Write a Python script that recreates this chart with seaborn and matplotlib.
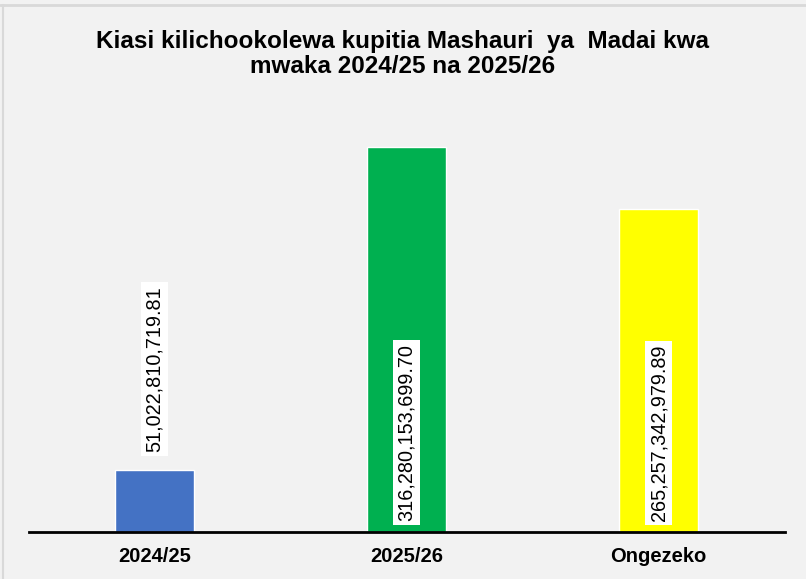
import matplotlib
matplotlib.use("Agg")
import matplotlib.pyplot as plt
import seaborn as sns
import pandas as pd

# Data
categories = ["2024/25", "2025/26", "Ongezeko"]
values = [51022810719.81, 316280153699.70, 265257342979.89]
bar_colors = ["#4472C4", "#00B050", "#FFFF00"]
title = "Kiasi kilichookolewa kupitia Mashauri  ya  Madai kwa\nmwaka 2024/25 na 2025/26"

sns.set_theme(style="white")
plt.rcParams["font.family"] = ["Liberation Sans", "DejaVu Sans"]
plt.rcParams["text.color"] = "black"
plt.rcParams["xtick.color"] = "black"

bg = "#F2F2F2"
fig = plt.figure(figsize=(8.06, 5.79), dpi=100, facecolor=bg)
ax = fig.add_axes([28.5 / 806, 47 / 579, 756 / 806, 426 / 579])
ax.set_facecolor(bg)

df = pd.DataFrame({"cat": categories, "val": values})
sns.barplot(data=df, x="cat", y="val", hue="cat", palette=bar_colors,
            width=0.313, legend=False, ax=ax, saturation=1)

ax.set_xlim(-0.5, 2.5)
ax.set_ylim(0, 350e9)
ax.set_yticks([])
ax.set_xlabel("")
ax.set_ylabel("")
for s in ["left", "right", "top"]:
    ax.spines[s].set_visible(False)
ax.spines["bottom"].set_color("black")
ax.spines["bottom"].set_linewidth(2)
ax.tick_params(axis="x", length=0, pad=11, labelcolor="black")
for lbl in ax.get_xticklabels():
    lbl.set_fontsize(14.5)
    lbl.set_fontweight("bold")

# data labels
ymin, ymax = ax.get_ylim()
px_per_val = (426 / (ymax - ymin))
for i, v in enumerate(values):
    txt = f"{v:,.2f}"
    if i == 0:
        y = v + 18 / px_per_val
    else:
        y = 11 / px_per_val
    ax.text(i, y, txt, rotation=90, ha="center", va="bottom", fontsize=14.3,
            color="black",
            bbox=dict(boxstyle="square,pad=0.2", facecolor="white", edgecolor="none"))

fig.text(0.5, 1 - 54 / 579, title, ha="center", va="center", fontsize=17.5,
         fontweight="bold", linespacing=1.15, color="black")

# light frame lines at top and left like the reference
fig.add_artist(plt.Line2D([0, 1], [1 - 5 / 579, 1 - 5 / 579], color="#D9D9D9", lw=2,
                          transform=fig.transFigure))
fig.add_artist(plt.Line2D([3 / 806, 3 / 806], [0, 1 - 5 / 579], color="#D9D9D9", lw=1.5,
                          transform=fig.transFigure))

fig.savefig("out.png", dpi=100, facecolor=bg)
